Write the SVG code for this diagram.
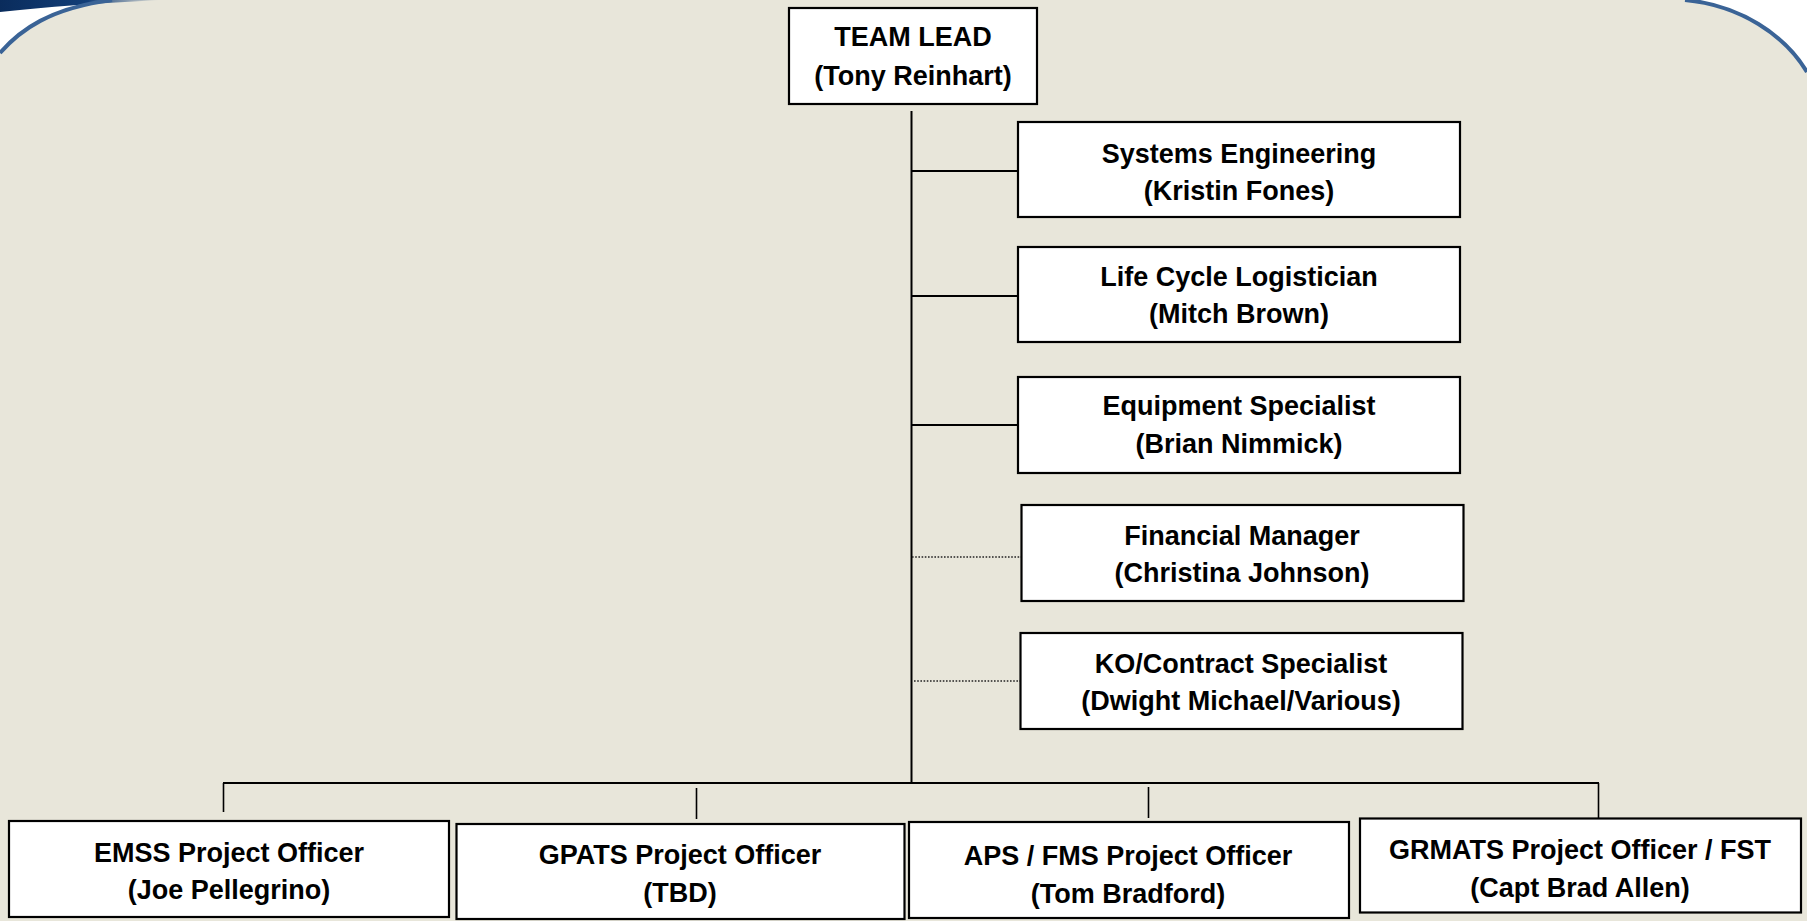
<svg xmlns="http://www.w3.org/2000/svg" width="1807" height="921" viewBox="0 0 1807 921">
<defs>
<linearGradient id="navy" x1="0" y1="0" x2="1" y2="0">
<stop offset="0" stop-color="#0A2C5C"/>
<stop offset="0.55" stop-color="#123E78"/>
<stop offset="1" stop-color="#123E78" stop-opacity="0"/>
</linearGradient>
</defs>
<style>
.box{fill:#FFFFFF;stroke:#000000;stroke-width:2.2}
.t{font-family:"Liberation Sans",Arial,sans-serif;font-weight:bold;font-size:27px;fill:#000000;text-anchor:middle}
.ln{stroke:#000000;stroke-width:2;fill:none}
.thin{stroke:#000000;stroke-width:1.6;fill:none}
.dot{stroke:#222222;stroke-width:1.6;stroke-dasharray:1.6 1.6;fill:none}
.frame{stroke:#3A6396;stroke-width:4;fill:none}
</style>
<rect x="0" y="0" width="1807" height="921" fill="#E8E6DA"/>
<g id="frame">
<path d="M0,0 L112,0 C50,8 20,30 0,53 Z" fill="#FFFFFF"/>
<path d="M1685,0 C1740,5 1785,35 1807,72 L1807,0 Z" fill="#FFFFFF"/>
<path d="M0,0 L160,0 C100,3 45,7 0,12 Z" fill="url(#navy)"/>
<path class="frame" d="M0,53 C20,30 50,8 112,0"/>
<path class="frame" d="M1685,0 C1740,5 1785,35 1807,72"/>
</g>
<g id="connectors">
<line class="ln" x1="911.5" y1="111" x2="911.5" y2="784"/>
<line class="ln" x1="911.5" y1="171" x2="1018" y2="171"/>
<line class="ln" x1="911.5" y1="296" x2="1018" y2="296"/>
<line class="ln" x1="911.5" y1="425" x2="1018" y2="425"/>
<line class="dot" x1="912" y1="557" x2="1021" y2="557"/>
<line class="dot" x1="914" y1="681" x2="1020" y2="681"/>
<line class="ln" x1="223" y1="783" x2="1599" y2="783"/>
<line class="thin" x1="223.5" y1="783" x2="223.5" y2="812"/>
<line class="thin" x1="696.5" y1="788" x2="696.5" y2="819"/>
<line class="thin" x1="1148.5" y1="787" x2="1148.5" y2="818"/>
<line class="thin" x1="1598.5" y1="783" x2="1598.5" y2="818"/>
</g>
<g id="team-lead">
<rect class="box" x="789" y="8" width="248" height="96"/>
<text class="t" x="913" y="46">TEAM LEAD</text>
<text class="t" x="913" y="85">(Tony Reinhart)</text>
</g>
<g id="systems-engineering">
<rect class="box" x="1018" y="122" width="442" height="95"/>
<text class="t" x="1239" y="163">Systems Engineering</text>
<text class="t" x="1239" y="200">(Kristin Fones)</text>
</g>
<g id="life-cycle-logistician">
<rect class="box" x="1018" y="247" width="442" height="95"/>
<text class="t" x="1239" y="286">Life Cycle Logistician</text>
<text class="t" x="1239" y="323">(Mitch Brown)</text>
</g>
<g id="equipment-specialist">
<rect class="box" x="1018" y="377" width="442" height="96"/>
<text class="t" x="1239" y="415">Equipment Specialist</text>
<text class="t" x="1239" y="453">(Brian Nimmick)</text>
</g>
<g id="financial-manager">
<rect class="box" x="1021.5" y="505" width="442" height="96"/>
<text class="t" x="1242" y="545">Financial Manager</text>
<text class="t" x="1242" y="582">(Christina Johnson)</text>
</g>
<g id="ko-contract-specialist">
<rect class="box" x="1020.5" y="633" width="442" height="96"/>
<text class="t" x="1241" y="673">KO/Contract Specialist</text>
<text class="t" x="1241" y="710">(Dwight Michael/Various)</text>
</g>
<g id="emss">
<rect class="box" x="9" y="821" width="440" height="96"/>
<text class="t" x="229" y="862">EMSS Project Officer</text>
<text class="t" x="229" y="899">(Joe Pellegrino)</text>
</g>
<g id="gpats">
<rect class="box" x="456.5" y="824" width="448" height="95"/>
<text class="t" x="680" y="864">GPATS Project Officer</text>
<text class="t" x="680" y="902">(TBD)</text>
</g>
<g id="aps-fms">
<rect class="box" x="909" y="822" width="440" height="96"/>
<text class="t" x="1128" y="865">APS / FMS Project Officer</text>
<text class="t" x="1128" y="903">(Tom Bradford)</text>
</g>
<g id="grmats">
<rect class="box" x="1360" y="818.5" width="441" height="94"/>
<text class="t" x="1580" y="859">GRMATS Project Officer / FST</text>
<text class="t" x="1580" y="897">(Capt Brad Allen)</text>
</g>
</svg>
